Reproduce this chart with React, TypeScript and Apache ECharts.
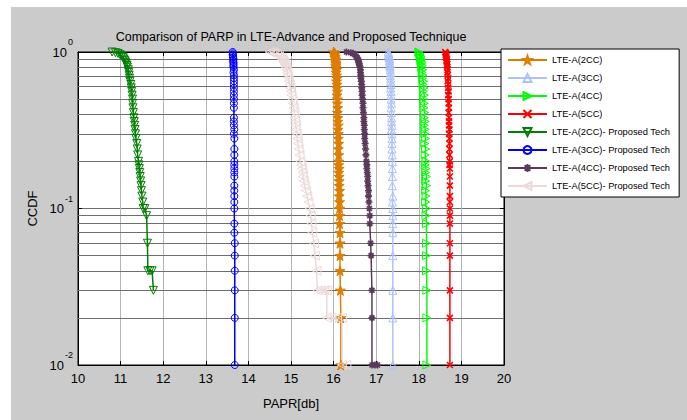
import React, { useEffect, useRef } from 'react';
import * as echarts from 'echarts';

// Horizontal minor grid (log decades 2..9)
const minorGrid = [0.02, 0.03, 0.04, 0.05, 0.06, 0.07, 0.08, 0.09, 0.2, 0.3, 0.4, 0.5, 0.6, 0.7, 0.8, 0.9];

// CCDF curves: [PAPR (dB), probability]
const lteA2cc: [number, number][] = [
  [16.0, 1.0], [16.03, 0.98], [16.02, 0.96], [16.04, 0.94], [16.03, 0.92], [16.05, 0.9], [16.04, 0.88], [16.05, 0.86],
  [16.06, 0.84], [16.05, 0.82], [16.06, 0.8], [16.07, 0.77], [16.06, 0.74], [16.07, 0.71], [16.08, 0.68], [16.07, 0.65],
  [16.08, 0.62], [16.08, 0.59], [16.09, 0.56], [16.08, 0.53], [16.09, 0.5], [16.09, 0.47], [16.1, 0.44], [16.09, 0.41],
  [16.1, 0.38], [16.1, 0.36], [16.11, 0.34], [16.1, 0.32], [16.11, 0.3], [16.11, 0.28], [16.12, 0.26], [16.11, 0.24],
  [16.12, 0.22], [16.12, 0.2], [16.12, 0.19], [16.13, 0.18], [16.12, 0.17], [16.13, 0.16], [16.13, 0.15], [16.13, 0.14],
  [16.14, 0.13], [16.13, 0.12], [16.14, 0.11], [16.14, 0.1], [16.14, 0.09], [16.14, 0.08], [16.15, 0.07], [16.15, 0.06],
  [16.15, 0.05], [16.15, 0.04], [16.16, 0.03], [16.17, 0.02], [16.17, 0.01],
];

const lteA3cc: [number, number][] = [
  [17.28, 1.0], [17.3, 0.98], [17.29, 0.96], [17.31, 0.94], [17.3, 0.92], [17.32, 0.9], [17.31, 0.88], [17.32, 0.86],
  [17.33, 0.84], [17.32, 0.82], [17.33, 0.8], [17.33, 0.77], [17.34, 0.74], [17.33, 0.71], [17.34, 0.68], [17.34, 0.65],
  [17.35, 0.62], [17.34, 0.59], [17.35, 0.56], [17.35, 0.53], [17.35, 0.5], [17.36, 0.47], [17.35, 0.44], [17.36, 0.41],
  [17.36, 0.38], [17.36, 0.36], [17.37, 0.34], [17.36, 0.32], [17.37, 0.3], [17.37, 0.28], [17.37, 0.26], [17.37, 0.24],
  [17.38, 0.22], [17.38, 0.2], [17.38, 0.18], [17.38, 0.16], [17.38, 0.14], [17.39, 0.12], [17.38, 0.11], [17.39, 0.1],
  [17.39, 0.09], [17.39, 0.08], [17.39, 0.07], [17.39, 0.05], [17.39, 0.03], [17.39, 0.02], [17.39, 0.01],
];

const lteA4cc: [number, number][] = [
  [18.0, 1.0], [18.02, 0.98], [18.03, 0.96], [18.05, 0.94], [18.04, 0.92], [18.06, 0.9], [18.05, 0.88], [18.07, 0.86],
  [18.06, 0.84], [18.08, 0.82], [18.07, 0.8], [18.09, 0.77], [18.08, 0.74], [18.1, 0.71], [18.09, 0.68], [18.11, 0.65],
  [18.1, 0.62], [18.12, 0.59], [18.11, 0.56], [18.13, 0.53], [18.11, 0.5], [18.13, 0.47], [18.12, 0.44], [18.14, 0.41],
  [18.13, 0.38], [18.15, 0.36], [18.13, 0.34], [18.15, 0.32], [18.14, 0.3], [18.16, 0.28], [18.14, 0.26], [18.16, 0.24],
  [18.15, 0.22], [18.17, 0.2], [18.15, 0.19], [18.17, 0.18], [18.16, 0.17], [18.18, 0.16], [18.16, 0.15], [18.18, 0.14],
  [18.16, 0.13], [18.17, 0.12], [18.16, 0.11], [18.18, 0.1], [18.17, 0.09], [18.18, 0.08], [18.18, 0.06], [18.18, 0.05],
  [18.18, 0.04], [18.19, 0.03], [18.19, 0.02], [18.19, 0.01],
];

const lteA5cc: [number, number][] = [
  [18.62, 1.0], [18.64, 0.98], [18.63, 0.96], [18.65, 0.94], [18.64, 0.92], [18.66, 0.9], [18.65, 0.88], [18.66, 0.86],
  [18.67, 0.84], [18.66, 0.82], [18.67, 0.8], [18.68, 0.77], [18.67, 0.74], [18.68, 0.71], [18.69, 0.68], [18.68, 0.65],
  [18.69, 0.62], [18.69, 0.59], [18.7, 0.56], [18.69, 0.53], [18.7, 0.5], [18.7, 0.47], [18.71, 0.44], [18.7, 0.41],
  [18.71, 0.38], [18.71, 0.36], [18.71, 0.34], [18.72, 0.32], [18.71, 0.3], [18.72, 0.28], [18.72, 0.26], [18.72, 0.24],
  [18.72, 0.22], [18.73, 0.2], [18.72, 0.19], [18.73, 0.18], [18.73, 0.16], [18.73, 0.14], [18.73, 0.12], [18.73, 0.11],
  [18.73, 0.1], [18.73, 0.09], [18.73, 0.08], [18.73, 0.06], [18.73, 0.05], [18.73, 0.03], [18.73, 0.02], [18.73, 0.01],
];

const prop2cc: [number, number][] = [
  [10.8, 1.0], [10.88, 0.99], [10.94, 0.98], [10.99, 0.96], [11.03, 0.94], [11.06, 0.92], [11.08, 0.9], [11.1, 0.88],
  [11.12, 0.86], [11.13, 0.84], [11.15, 0.82], [11.16, 0.8], [11.18, 0.77], [11.19, 0.74], [11.2, 0.71], [11.21, 0.68],
  [11.22, 0.65], [11.24, 0.62], [11.25, 0.59], [11.26, 0.56], [11.27, 0.53], [11.28, 0.5], [11.28, 0.47], [11.29, 0.44],
  [11.3, 0.41], [11.31, 0.38], [11.32, 0.36], [11.33, 0.34], [11.34, 0.32], [11.35, 0.3], [11.36, 0.28], [11.38, 0.26],
  [11.39, 0.24], [11.4, 0.22], [11.42, 0.2], [11.43, 0.19], [11.44, 0.18], [11.45, 0.17], [11.46, 0.16], [11.47, 0.15],
  [11.48, 0.14], [11.49, 0.13], [11.5, 0.12], [11.52, 0.11], [11.53, 0.1], [11.57, 0.1], [11.61, 0.09], [11.63, 0.06],
  [11.64, 0.04], [11.69, 0.04], [11.74, 0.04], [11.77, 0.03],
];

const prop3cc: [number, number][] = [
  [13.63, 1.0], [13.64, 0.98], [13.63, 0.96], [13.64, 0.94], [13.64, 0.92], [13.65, 0.9], [13.64, 0.88], [13.65, 0.86],
  [13.65, 0.84], [13.65, 0.82], [13.65, 0.8], [13.66, 0.77], [13.65, 0.74], [13.66, 0.71], [13.66, 0.68], [13.66, 0.65],
  [13.66, 0.62], [13.66, 0.59], [13.66, 0.56], [13.66, 0.53], [13.66, 0.5], [13.66, 0.47], [13.66, 0.44], [13.66, 0.38],
  [13.66, 0.36], [13.66, 0.34], [13.67, 0.32], [13.66, 0.3], [13.67, 0.28], [13.67, 0.24], [13.67, 0.22], [13.67, 0.2],
  [13.67, 0.19], [13.67, 0.18], [13.67, 0.17], [13.67, 0.16], [13.67, 0.14], [13.67, 0.13], [13.67, 0.12], [13.67, 0.11],
  [13.67, 0.1], [13.67, 0.08], [13.67, 0.07], [13.68, 0.06], [13.68, 0.05], [13.68, 0.04], [13.68, 0.03], [13.68, 0.02],
  [13.68, 0.01],
];

const prop4cc: [number, number][] = [
  [16.3, 1.0], [16.4, 0.99], [16.46, 0.98], [16.5, 0.96], [16.53, 0.94], [16.55, 0.92], [16.57, 0.9], [16.58, 0.88],
  [16.59, 0.86], [16.6, 0.84], [16.61, 0.82], [16.62, 0.8], [16.63, 0.77], [16.63, 0.74], [16.64, 0.71], [16.64, 0.68],
  [16.65, 0.65], [16.66, 0.62], [16.66, 0.59], [16.67, 0.56], [16.67, 0.53], [16.68, 0.5], [16.69, 0.47], [16.69, 0.44],
  [16.7, 0.41], [16.71, 0.38], [16.71, 0.36], [16.72, 0.34], [16.72, 0.32], [16.73, 0.3], [16.73, 0.28], [16.74, 0.26],
  [16.75, 0.24], [16.76, 0.22], [16.77, 0.2], [16.78, 0.19], [16.78, 0.18], [16.79, 0.17], [16.8, 0.16], [16.8, 0.15],
  [16.81, 0.14], [16.82, 0.13], [16.82, 0.12], [16.83, 0.11], [16.84, 0.1], [16.85, 0.09], [16.85, 0.08], [16.87, 0.06],
  [16.88, 0.05], [16.9, 0.03], [16.9, 0.02], [16.9, 0.01], [16.97, 0.01], [17.03, 0.01],
];

const prop5cc: [number, number][] = [
  [14.5, 1.0], [14.56, 0.99], [14.61, 0.98], [14.67, 0.96], [14.72, 0.94], [14.76, 0.92], [14.79, 0.9], [14.81, 0.88],
  [14.83, 0.86], [14.85, 0.84], [14.87, 0.82], [14.88, 0.8], [14.9, 0.77], [14.91, 0.74], [14.92, 0.71], [14.94, 0.68],
  [14.95, 0.65], [14.97, 0.62], [14.98, 0.59], [15.0, 0.56], [15.01, 0.53], [15.03, 0.5], [15.04, 0.47], [15.06, 0.44],
  [15.08, 0.41], [15.09, 0.38], [15.1, 0.36], [15.11, 0.34], [15.12, 0.32], [15.13, 0.3], [15.15, 0.28], [15.16, 0.26],
  [15.18, 0.24], [15.2, 0.22], [15.22, 0.2], [15.24, 0.19], [15.25, 0.18], [15.27, 0.17], [15.28, 0.16], [15.3, 0.15],
  [15.32, 0.14], [15.35, 0.13], [15.38, 0.12], [15.41, 0.11], [15.44, 0.1], [15.46, 0.09], [15.48, 0.08], [15.5, 0.07],
  [15.54, 0.06], [15.56, 0.05], [15.6, 0.04], [15.62, 0.03], [15.7, 0.03], [15.78, 0.03], [15.84, 0.03], [15.84, 0.02],
  [15.95, 0.02], [16.08, 0.02], [16.2, 0.02], [16.2, 0.01], [16.3, 0.01],
];

const STAR = 'path://M50,0L61.8,35.1L98.1,34.5L68.9,56.7L79.4,90.5L50,70L20.6,90.5L31.1,56.7L1.9,34.5L38.2,35.1Z';
const CROSS = 'path://M0,0L10,10M10,0L0,10';
const ASTERISK = 'path://M5,0L5,10M0,5L10,5M1.5,1.5L8.5,8.5M8.5,1.5L1.5,8.5';

const FONT = '"Liberation Sans", Arial, Helvetica, sans-serif';

type Def = {
  name: string;
  data: [number, number][];
  color: string;
  symbol: string;
  size: number;
  rotate: number;
  filled: boolean;
};

const defs: Def[] = [
  { name: 'LTE-A(2CC)', data: lteA2cc, color: '#de7d00', symbol: STAR, size: 10, rotate: 0, filled: true },
  { name: 'LTE-A(3CC)', data: lteA3cc, color: '#aec2fa', symbol: 'triangle', size: 8, rotate: 0, filled: false },
  { name: 'LTE-A(4CC)', data: lteA4cc, color: '#00ff00', symbol: 'triangle', size: 8, rotate: -90, filled: false },
  { name: 'LTE-A(5CC)', data: lteA5cc, color: '#ff0000', symbol: CROSS, size: 6, rotate: 0, filled: false },
  { name: 'LTE-A(2CC)- Proposed Tech', data: prop2cc, color: '#007f00', symbol: 'triangle', size: 8, rotate: 180, filled: false },
  { name: 'LTE-A(3CC)- Proposed Tech', data: prop3cc, color: '#0000ff', symbol: 'circle', size: 7, rotate: 0, filled: false },
  { name: 'LTE-A(4CC)- Proposed Tech', data: prop4cc, color: '#5a3a5a', symbol: ASTERISK, size: 7, rotate: 0, filled: false },
  { name: 'LTE-A(5CC)- Proposed Tech', data: prop5cc, color: '#ecd9d9', symbol: 'triangle', size: 9, rotate: 90, filled: false },
];

export default function App() {
  const ref = useRef<HTMLDivElement>(null);

  useEffect(() => {
    if (!ref.current) return;
    const chart = echarts.init(ref.current, null, { renderer: 'svg' });

    const series: any[] = defs.map((d) => ({
      type: 'line',
      name: d.name,
      data: d.data,
      color: d.color,
      symbol: d.symbol,
      symbolSize: d.size,
      symbolRotate: d.rotate,
      showSymbol: true,
      showAllSymbol: true,
      z: 3,
      lineStyle: { color: d.color, width: 1.5 },
      itemStyle: {
        color: d.filled ? d.color : 'rgba(0,0,0,0)',
        borderColor: d.color,
        borderWidth: d.symbol === CROSS || d.symbol === ASTERISK ? 1.6 : 1,
      },
      emphasis: { disabled: true },
      silent: true,
    }));

    // Minor horizontal grid lines placed through the log axis
    series.unshift({
      type: 'line',
      data: [],
      silent: true,
      z: 1,
      markLine: {
        silent: true,
        z: 1,
        symbol: ['none', 'none'],
        label: { show: false },
        emphasis: { disabled: true },
        lineStyle: { color: '#6e6e6e', type: 'solid', width: 1 },
        data: minorGrid.map((v) => ({ yAxis: v })),
      },
    });

    chart.setOption({
      animation: false,
      backgroundColor: '#ffffff',
      textStyle: { fontFamily: FONT },
      graphic: [
        {
          type: 'rect',
          z: -100,
          shape: { x: 11, y: 7, width: 676, height: 413 },
          style: { fill: '#cbcbcb' },
          silent: true,
        },
        {
          type: 'text',
          x: 291,
          y: 37,
          style: {
            text: 'Comparison of PARP in LTE-Advance and Proposed Technique',
            fontSize: 12.5,
            fontFamily: FONT,
            fill: '#000',
            align: 'center',
            verticalAlign: 'middle',
          },
        },
      ],
      grid: {
        left: 78,
        right: 183,
        top: 52,
        bottom: 55,
        show: true,
        backgroundColor: '#ffffff',
        borderColor: '#000',
        borderWidth: 1,
      },
      legend: {
        data: defs.map((d) => d.name),
        orient: 'vertical',
        left: 501,
        top: 49,
        itemWidth: 39,
        itemHeight: 10,
        itemGap: 8,
        padding: [6, 9, 6, 6],
        backgroundColor: '#ffffff',
        borderColor: '#000',
        borderWidth: 1,
        selectedMode: false,
        textStyle: { fontSize: 9.3, color: '#000', fontFamily: FONT },
        z: 10,
      },
      xAxis: [
        {
          type: 'value',
          min: 10,
          max: 20,
          interval: 1,
          name: 'PAPR[db]',
          nameLocation: 'middle',
          nameGap: 32,
          nameTextStyle: { fontSize: 13, color: '#000', fontFamily: FONT },
          axisLine: { show: true, lineStyle: { color: '#000', width: 1 } },
          axisTick: { show: true, inside: true, length: 4, lineStyle: { color: '#000' } },
          axisLabel: { fontSize: 13, color: '#000', margin: 7, fontFamily: FONT },
          splitLine: { show: true, lineStyle: { color: '#b4b4b4', width: 1 } },
        },
        {
          type: 'value',
          position: 'top',
          min: 10,
          max: 20,
          interval: 1,
          axisLine: { show: true, lineStyle: { color: '#000', width: 1 } },
          axisTick: { show: true, inside: true, length: 4, lineStyle: { color: '#000' } },
          axisLabel: { show: false },
          splitLine: { show: false },
        },
      ],
      yAxis: [
        {
          type: 'log',
          logBase: 10,
          min: 0.01,
          max: 1,
          name: 'CCDF',
          nameLocation: 'middle',
          nameGap: 35,
          nameRotate: 90,
          nameTextStyle: { fontSize: 13, color: '#000', fontFamily: FONT },
          axisLine: { show: true, lineStyle: { color: '#000', width: 1 } },
          axisTick: { show: true, inside: true, length: 4, lineStyle: { color: '#000' } },
          axisLabel: {
            margin: 5,
            color: '#000',
            formatter: (v: number) => `{b|10}{s|${Math.round(Math.log10(v))}}`,
            rich: {
              b: { fontSize: 13, lineHeight: 29, verticalAlign: 'middle', fontFamily: FONT, color: '#000' },
              s: { fontSize: 9, lineHeight: 9, verticalAlign: 'top', fontFamily: FONT, color: '#000', padding: [0, 0, 0, 1] },
            },
          },
          splitLine: { show: true, lineStyle: { color: '#6e6e6e', width: 1 } },
        },
        {
          type: 'log',
          logBase: 10,
          min: 0.01,
          max: 1,
          position: 'right',
          axisLine: { show: true, lineStyle: { color: '#000', width: 1 } },
          axisTick: { show: true, inside: true, length: 4, lineStyle: { color: '#000' } },
          axisLabel: { show: false },
          splitLine: { show: false },
        },
      ],
      series,
    });

    return () => chart.dispose();
  }, []);

  return (
    <div
      ref={ref}
      style={{ position: 'fixed', left: 0, top: 0, width: 687, height: 420 }}
    />
  );
}
